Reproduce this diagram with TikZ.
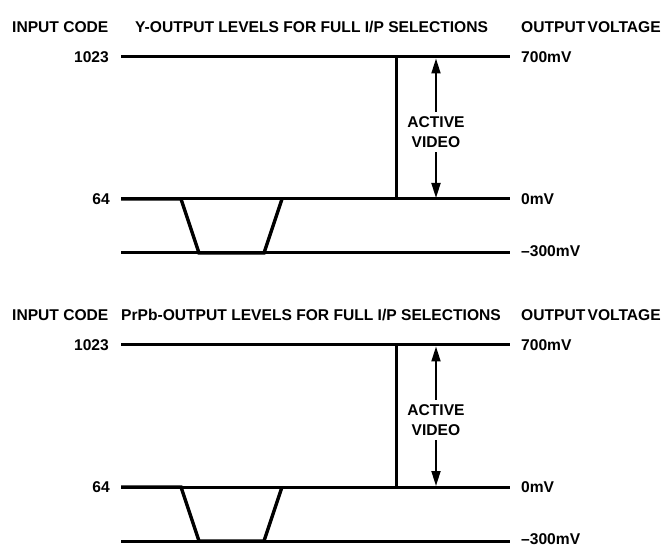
\documentclass[tikz,border=0pt]{standalone}
\usepackage{fontspec}
\setmainfont{Liberation Sans}
\usetikzlibrary{arrows.meta}
\tikzset{
  lbl/.style={font=\fontsize{15.6}{20}\selectfont\bfseries, inner sep=0pt},
  level/.style={line width=3pt},
  trace/.style={line width=3.4pt, line join=miter},
  vbar/.style={line width=3pt},
  arr/.style={line width=1.8pt, {Triangle[length=15pt,width=9pt]}-{Triangle[length=15pt,width=9pt]}},
  note/.style={lbl, align=center, fill=white, inner xsep=1pt, inner ysep=4pt},
}
\newcommand{\titleA}{Y-OUTPUT LEVELS FOR FULL I/P SELECTIONS}
\newcommand{\titleB}{PrPb-OUTPUT LEVELS FOR FULL I/P SELECTIONS}
\begin{document}
\begin{tikzpicture}[x=1pt,y=-1pt]
\useasboundingbox (0,0) rectangle (662,548);
\foreach \o/\s/\tx/\tt in {0/a/135/\titleA, 288/b/121/\titleB}{
  % headers
  \node[lbl, anchor=west] (in\s) at (12,27+\o) {INPUT CODE};
  \node[lbl, anchor=west] (ti\s) at (\tx,27+\o) {\tt};
  \node[lbl, anchor=west] (ov\s) at (521,27+\o) {OUTPUT\hspace{-2pt} VOLTAGE};
  % level coordinates
  \coordinate (hl\s) at (121,57+\o);
  \coordinate (hr\s) at (510,57+\o);
  \coordinate (zl\s) at (121,199+\o);
  \coordinate (zr\s) at (510,199+\o);
  \coordinate (ml\s) at (121,253+\o);
  \coordinate (mr\s) at (510,253+\o);
  % level lines
  \draw[level] (hl\s) -- (hr\s);
  \draw[level] (zl\s) -- (zr\s);
  \draw[level] (ml\s) -- (mr\s);
  % labels
  \node[lbl, anchor=east] (c1023\s) at (109,57+\o) {1023};
  \node[lbl, anchor=east] (c64\s) at (110,199+\o) {64};
  \node[lbl, anchor=west] (v700\s) at (521,57+\o) {700mV};
  \node[lbl, anchor=west] (v0\s) at (521,199+\o) {0mV};
  \node[lbl, anchor=west] (v300\s) at (521,251+\o) {--300mV};
  % sync trace
  \coordinate (t1\s) at (181,199+\o);
  \coordinate (t2\s) at (199,253+\o);
  \coordinate (t3\s) at (264,253+\o);
  \coordinate (t4\s) at (282,199+\o);
  \draw[trace] (zl\s) -- (t1\s) -- (t2\s) -- (t3\s) -- (t4\s);
  % active video bar
  \coordinate (vb\s) at (396,199+\o);
  \coordinate (vt\s) at (396,57+\o);
  \draw[vbar] (vb\s) -- (vt\s);
  % arrow
  \coordinate (at\s) at (436,58.5+\o);
  \coordinate (ab\s) at (436,198+\o);
  \draw[arr] (at\s) -- (ab\s);
  \node[note] (av\s) at (436,132+\o) {ACTIVE\\VIDEO};
}
\end{tikzpicture}
\end{document}
